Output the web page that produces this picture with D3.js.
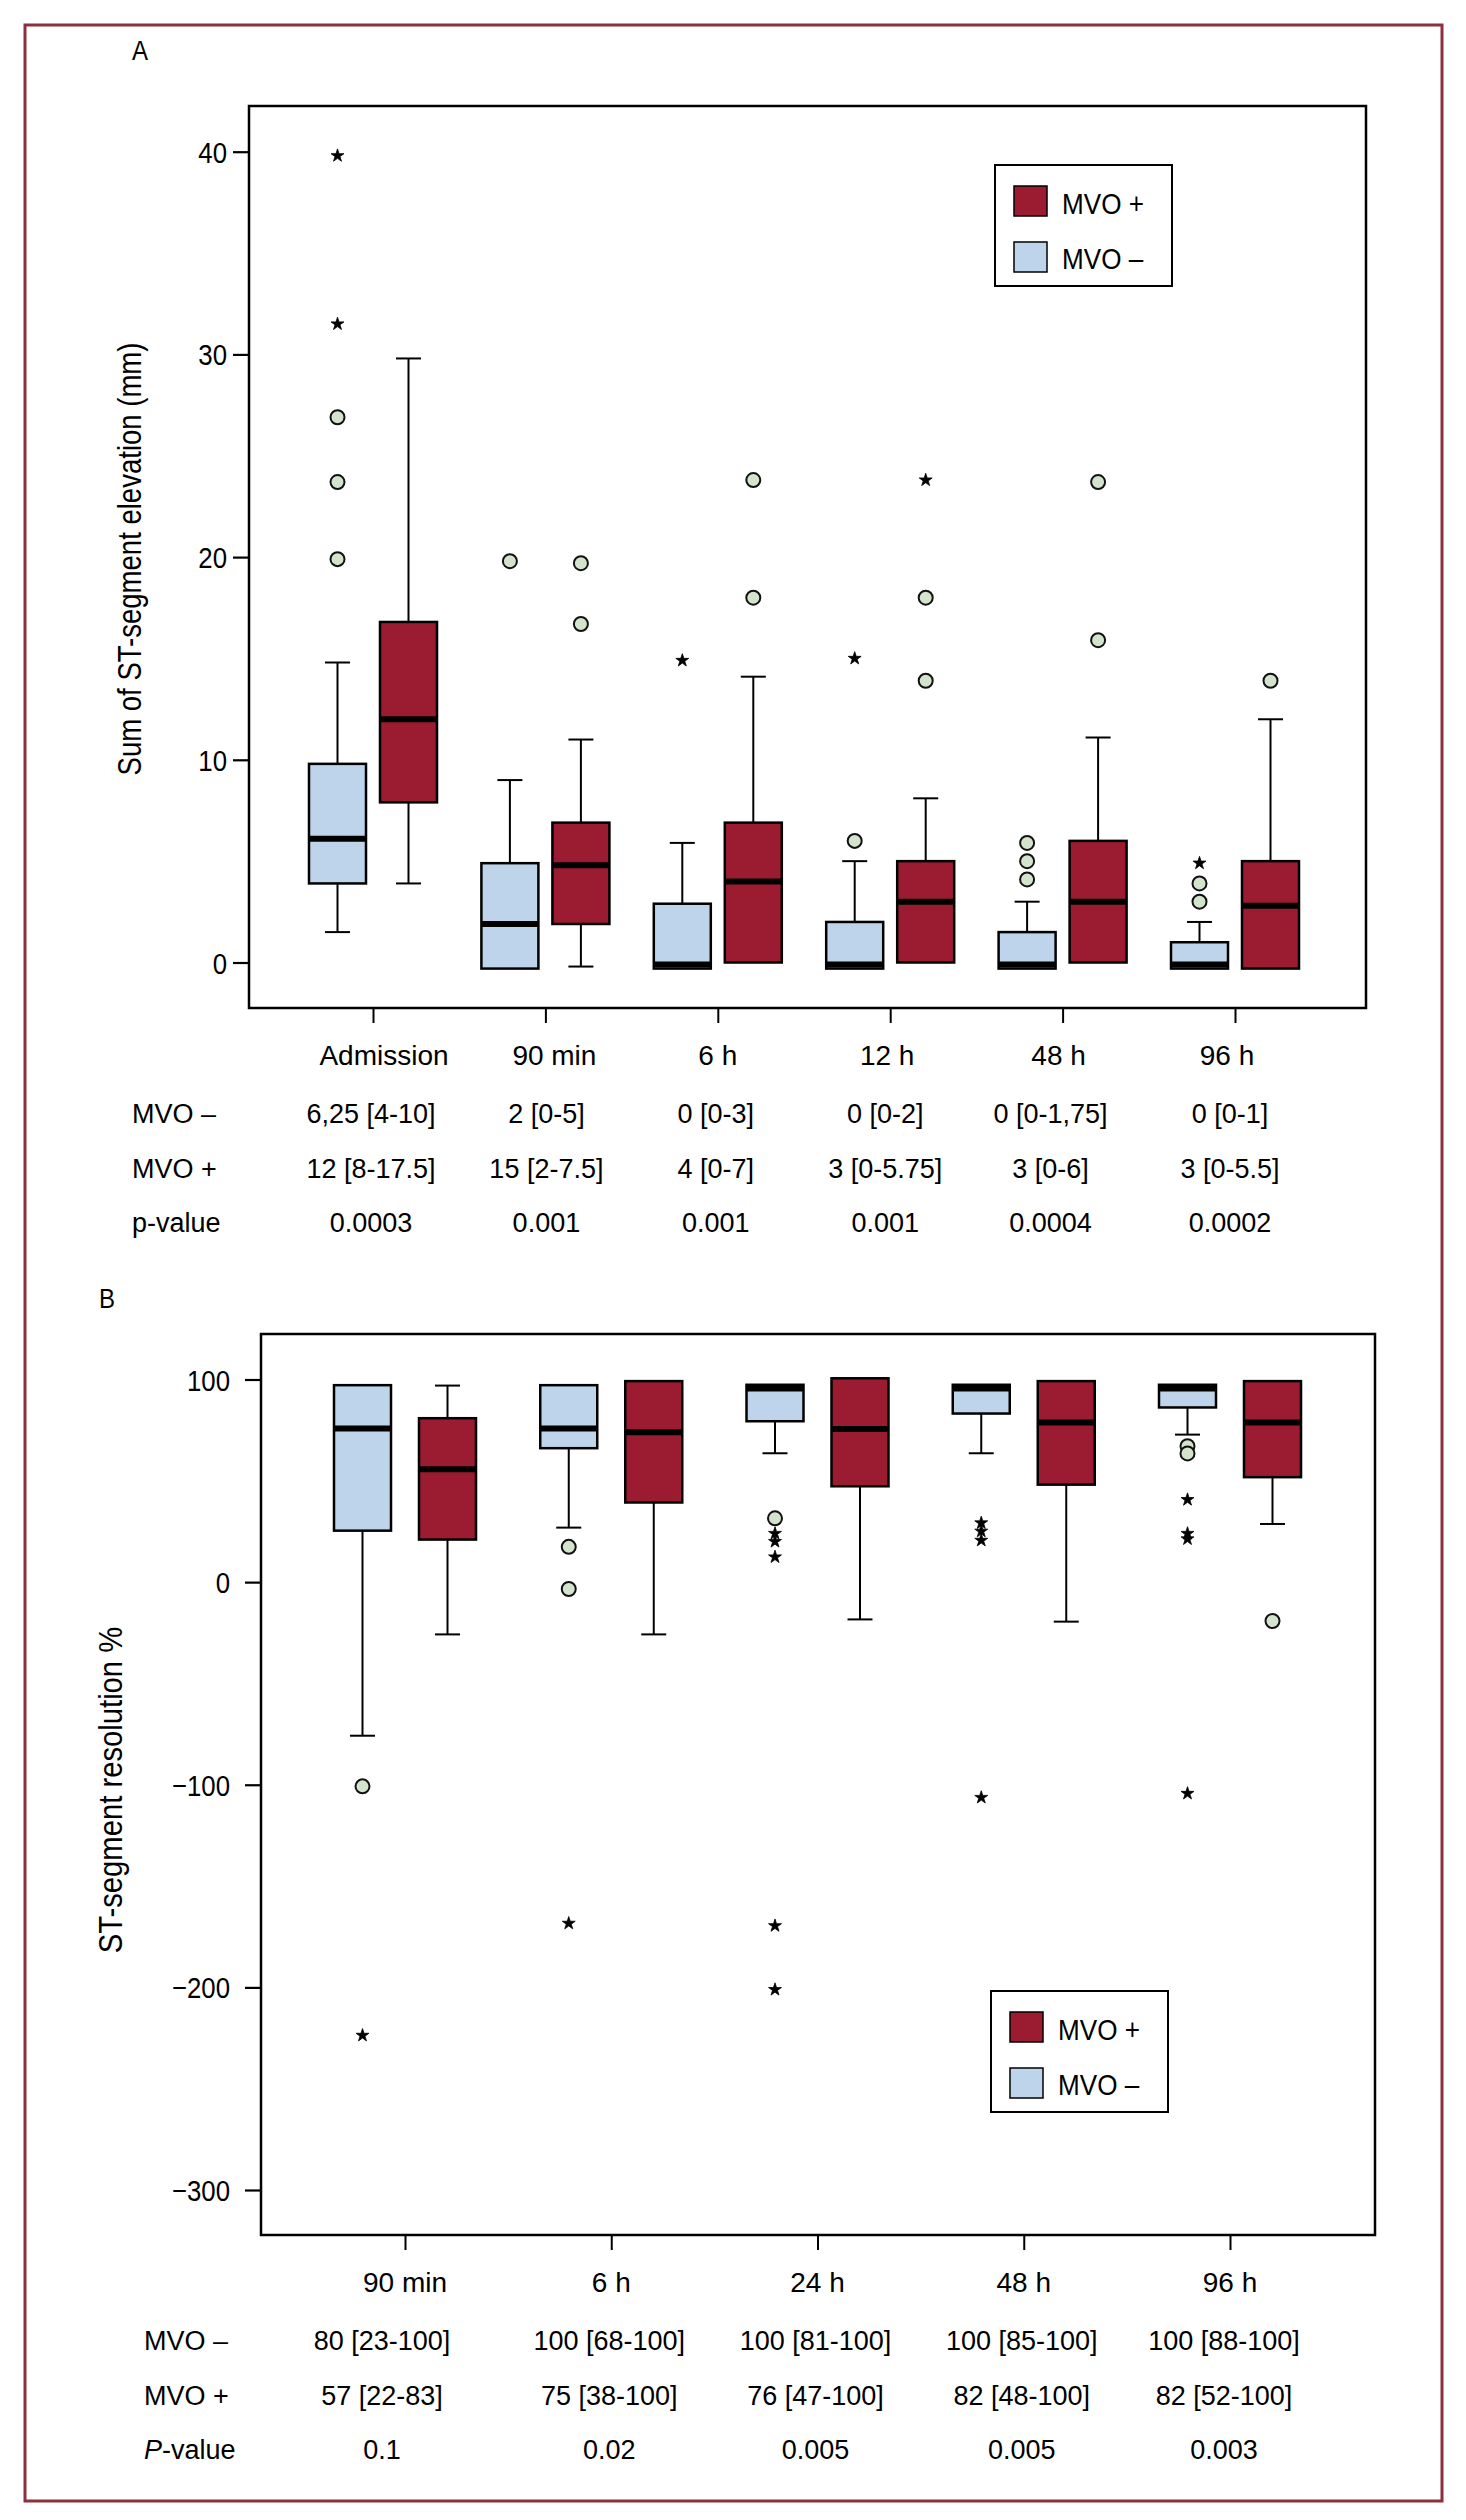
<!DOCTYPE html>
<html>
<head>
<meta charset="utf-8">
<script src="https://cdn.jsdelivr.net/npm/d3@7"></script>
<style>
  body { margin: 0; background: #fff; }
  svg text { font-family: "Liberation Sans", Arial, Helvetica, sans-serif; fill: #000; }
</style>
</head>
<body>
<div id="chart"></div>
<script>
// ---- data ----
const catsA = ["Admission", "90 min", "6 h", "12 h", "48 h", "96 h"];
// [lower whisker, q1, median, q3, upper whisker]; null = no whisker drawn
const boxNegA = [
  [1.5, 3.9, 6.1, 9.8, 14.8],
  [null, -0.3, 1.9, 4.9, 9.0],
  [null, -0.3, -0.1, 2.9, 5.9],
  [null, -0.3, -0.1, 2.0, 5.0],
  [null, -0.3, -0.1, 1.5, 3.0],
  [null, -0.3, -0.1, 1.0, 2.0]
];
const boxPosA = [
  [3.9, 7.9, 12.0, 16.8, 29.8],
  [-0.2, 1.9, 4.8, 6.9, 11.0],
  [null, 0, 4.0, 6.9, 14.1],
  [null, 0, 3.0, 5.0, 8.1],
  [null, 0, 3.0, 6.0, 11.1],
  [null, -0.3, 2.8, 5.0, 12.0]
];
const circNegA = [[19.9, 23.7, 26.9], [19.8], [], [6.0], [4.1, 5.0, 5.9], [3.0, 3.9]];
const starNegA = [[31.5, 39.8], [], [14.9], [15.0], [], [4.9]];
const circPosA = [[], [16.7, 19.7], [18.0, 23.8], [13.9, 18.0], [15.9, 23.7], [13.9]];
const starPosA = [[], [], [], [23.8], [], []];
const ticksA = [0, 10, 20, 30, 40];

const negRowA = ["6,25 [4-10]", "2 [0-5]", "0 [0-3]", "0 [0-2]", "0 [0-1,75]", "0 [0-1]"];
const posRowA = ["12 [8-17.5]", "15 [2-7.5]", "4 [0-7]", "3 [0-5.75]", "3 [0-6]", "3 [0-5.5]"];
const pRowA = ["0.0003", "0.001", "0.001", "0.001", "0.0004", "0.0002"];

const catsB = ["90 min", "6 h", "24 h", "48 h", "96 h"];
const boxNegB = [
  [-75.8, 25.4, 75.8, 97.2, null],
  [26.9, 66.1, 75.8, 97.2, null],
  [63.6, 79.4, 95.6, 97.4, null],
  [63.6, 83.2, 95.6, 97.4, null],
  [72.8, 86.2, 95.6, 97.4, null]
];
const boxPosB = [
  [-25.8, 21.0, 55.7, 80.9, 97.0],
  [-25.8, 39.3, 74.0, 99.2, null],
  [-18.4, 47.3, 75.6, 100.6, null],
  [-19.5, 48.1, 78.8, 99.2, null],
  [28.7, 51.8, 78.8, 99.2, null]
];
const circNegB = [[-100.8], [17.4, -3.4], [31.5], [], [67.1, 63.5]];
const starNegB = [[-223.7], [-168.4], [24.0, 20.0, 12.4, -169.6, -201.1], [29.2, 25.1, 20.6, -106.3], [40.7, 24.0, 21.3, -104.3]];
const circPosB = [[], [], [], [], [-19.2]];
const starPosB = [[], [], [], [], []];
const ticksB = [-300, -200, -100, 0, 100];

const negRowB = ["80 [23-100]", "100 [68-100]", "100 [81-100]", "100 [85-100]", "100 [88-100]"];
const posRowB = ["57 [22-83]", "75 [38-100]", "76 [47-100]", "82 [48-100]", "82 [52-100]"];
const pRowB = ["0.1", "0.02", "0.005", "0.005", "0.003"];

const legendLabels = ["MVO +", "MVO \u2013"];

// ---- style ----
const RED = "#9b1c31";
const BLUE = "#bdd4eb";
const DOT = "#d4e4cc";
const BORDER = "#8e2f40";

const W = 1466, H = 2520;
const svg = d3.select("#chart").append("svg")
  .attr("width", W).attr("height", H);

svg.append("rect")
  .attr("x", 25).attr("y", 25)
  .attr("width", 1417).attr("height", 2476)
  .attr("fill", "none").attr("stroke", BORDER).attr("stroke-width", 3);

// condensed text helper (horizontal squeeze)
function ctext(g, x, y, str, size, sx, anchor) {
  return g.append("text")
    .attr("transform", `translate(${x},${y}) scale(${sx},1)`)
    .attr("text-anchor", anchor || "start")
    .style("font-size", size + "px")
    .text(str);
}

function drawPanel(p) {
  const g = svg.append("g");
  const y = d3.scaleLinear().domain(p.domain).range(p.yRange);
  const x = d3.scalePoint().domain(p.cats).range(p.xRange);

  // frame
  g.append("rect")
    .attr("x", p.left).attr("y", p.top)
    .attr("width", p.right - p.left).attr("height", p.bottom - p.top)
    .attr("fill", "none").attr("stroke", "#000").attr("stroke-width", 2.5);

  // left axis
  const yAx = g.append("g")
    .attr("transform", `translate(${p.left},0)`)
    .call(d3.axisLeft(y).tickValues(p.ticks).tickSize(16).tickSizeOuter(0));
  yAx.select(".domain").remove();
  yAx.selectAll(".tick line").attr("stroke-width", 2.2);
  yAx.selectAll(".tick text")
    .attr("x", null).attr("dy", "0.35em")
    .attr("transform", `translate(${-p.tickGap},0) scale(0.86,1)`)
    .style("font-size", "30px")
    .style("font-family", "'Liberation Sans', Arial, sans-serif");

  // bottom axis (ticks only)
  const xAx = g.append("g")
    .attr("transform", `translate(0,${p.bottom})`)
    .call(d3.axisBottom(x).tickSize(15).tickSizeOuter(0).tickFormat(""));
  xAx.select(".domain").remove();
  xAx.selectAll(".tick line").attr("stroke-width", 2);

  // y label
  g.append("text")
    .attr("transform", `translate(${p.yLabelX},${p.yLabelY}) rotate(-90) scale(${p.yLabelSx},1)`)
    .attr("text-anchor", "middle")
    .style("font-size", "34px")
    .text(p.yLabel);

  // panel letter
  ctext(g, p.letterX, p.letterY, p.letter, 28, 0.86);

  const series = [
    {boxes: p.neg, circ: p.circNeg, star: p.starNeg, dx: -p.off, fill: BLUE},
    {boxes: p.pos, circ: p.circPos, star: p.starPos, dx: p.off, fill: RED}
  ];
  const bw = 57, cap = 25;
  const star = d3.symbol().type(d3.symbolStar).size(52);

  series.forEach(s => {
    s.boxes.forEach((b, i) => {
      const cx = x(p.cats[i]) + s.dx;
      const [lo, q1, med, q3, hi] = b;
      const bg = g.append("g");
      // whiskers
      if (hi !== null) {
        bg.append("line").attr("x1", cx).attr("x2", cx)
          .attr("y1", y(q3)).attr("y2", y(hi));
        bg.append("line").attr("x1", cx - cap / 2).attr("x2", cx + cap / 2)
          .attr("y1", y(hi)).attr("y2", y(hi));
      }
      if (lo !== null) {
        bg.append("line").attr("x1", cx).attr("x2", cx)
          .attr("y1", y(q1)).attr("y2", y(lo));
        bg.append("line").attr("x1", cx - cap / 2).attr("x2", cx + cap / 2)
          .attr("y1", y(lo)).attr("y2", y(lo));
      }
      bg.selectAll("line").attr("stroke", "#000").attr("stroke-width", 2);
      // box
      bg.append("rect")
        .attr("x", cx - bw / 2).attr("width", bw)
        .attr("y", y(q3)).attr("height", y(q1) - y(q3))
        .attr("fill", s.fill).attr("stroke", "#000").attr("stroke-width", 2.5);
      // median
      bg.append("line")
        .attr("x1", cx - bw / 2).attr("x2", cx + bw / 2)
        .attr("y1", y(med)).attr("y2", y(med))
        .attr("stroke", "#000").attr("stroke-width", 6);
      // outliers
      s.circ[i].forEach(v => {
        bg.append("circle").attr("cx", cx).attr("cy", y(v)).attr("r", 7)
          .attr("fill", DOT).attr("stroke", "#111").attr("stroke-width", 2);
      });
      s.star[i].forEach(v => {
        bg.append("path").attr("d", star)
          .attr("transform", `translate(${cx},${y(v)})`)
          .attr("fill", "#000").attr("stroke", "#000").attr("stroke-width", 0.8);
      });
    });
  });

  // legend
  const lg = g.append("g").attr("transform", `translate(${p.legX},${p.legY})`);
  lg.append("rect").attr("width", 177).attr("height", 121)
    .attr("fill", "#fff").attr("stroke", "#000").attr("stroke-width", 2);
  [RED, BLUE].forEach((c, i) => {
    lg.append("rect").attr("x", 19).attr("y", 21 + i * 56)
      .attr("width", 33).attr("height", 30)
      .attr("fill", c).attr("stroke", "#000").attr("stroke-width", 1.5);
    ctext(lg, 67, 49 + i * 55, legendLabels[i], 29, 0.9);
  });

  // category labels
  p.cats.forEach((c, i) => {
    g.append("text").attr("x", x(c) + p.catShift[i]).attr("y", p.bottom + 57)
      .attr("text-anchor", "middle").style("font-size", "28px").text(c);
  });

  // table rows
  const rows = [
    {label: legendLabels[1], vals: p.negRow},
    {label: legendLabels[0], vals: p.posRow},
    {label: p.pLabel, vals: p.pRow}
  ];
  rows.forEach((r, k) => {
    const ry = p.rowY[k];
    const t = g.append("text").attr("x", p.rowLabelX).attr("y", ry).style("font-size", "27px");
    if (r.label === "P-value") {
      t.append("tspan").style("font-style", "italic").text("P");
      t.append("tspan").text("-value");
    } else {
      t.text(r.label);
    }
    r.vals.forEach((v, i) => {
      g.append("text").attr("x", x(p.cats[i]) + p.colShift[i]).attr("y", ry)
        .attr("text-anchor", "middle").style("font-size", "27px").text(v);
    });
  });
}

drawPanel({
  cats: catsA, neg: boxNegA, pos: boxPosA,
  circNeg: circNegA, starNeg: starNegA, circPos: circPosA, starPos: starPosA,
  domain: [0, 40], yRange: [962.5, 151.7], ticks: ticksA,
  xRange: [373, 1235], off: 35.5,
  left: 249, right: 1366, top: 106, bottom: 1008, tickGap: 22,
  yLabel: "Sum of ST-segment elevation (mm)", yLabelX: 141, yLabelY: 559, yLabelSx: 0.81,
  letter: "A", letterX: 132, letterY: 60,
  legX: 995, legY: 165,
  negRow: negRowA, posRow: posRowA, pRow: pRowA, pLabel: "p-value",
  rowY: [1123, 1178, 1232], rowLabelX: 132,
  colShift: [-2, 1, -2, -5, -12, -5], catShift: [11, 9, 0, -3, -4, -8]
});

drawPanel({
  cats: catsB, neg: boxNegB, pos: boxPosB,
  circNeg: circNegB, starNeg: starNegB, circPos: circPosB, starPos: starPosB,
  domain: [-300, 100], yRange: [2190, 1379.5], ticks: ticksB,
  xRange: [405, 1230], off: 42.5,
  left: 261, right: 1375, top: 1334, bottom: 2235, tickGap: 31,
  yLabel: "ST-segment resolution %", yLabelX: 122, yLabelY: 1790, yLabelSx: 0.86,
  letter: "B", letterX: 99, letterY: 1308,
  legX: 991, legY: 1991,
  negRow: negRowB, posRow: posRowB, pRow: pRowB, pLabel: "P-value",
  rowY: [2350, 2405, 2459], rowLabelX: 144,
  colShift: [-23, -2, -2, -2, -6], catShift: [0, 0, 0, 0, 0]
});
</script>
</body>
</html>
